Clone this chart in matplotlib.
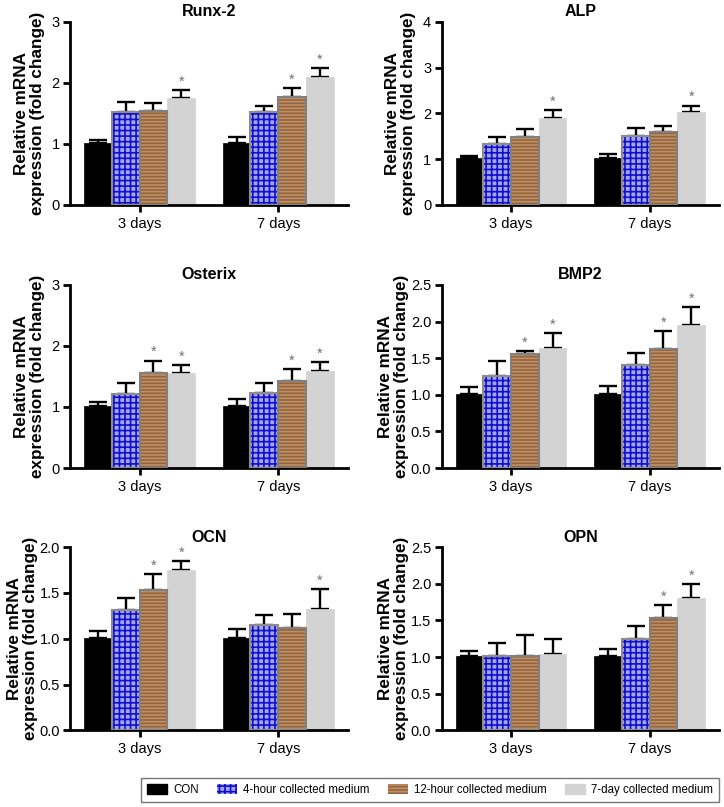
import numpy as np
import matplotlib
matplotlib.use("Agg")
import matplotlib.pyplot as plt
from matplotlib.patches import Patch

plt.rcParams['font.family'] = ['Liberation Sans', 'DejaVu Sans']
plt.rcParams['hatch.linewidth'] = 1.2

# data
groups = ['3 days', '7 days']
series = ['CON', '4-hour collected medium', '12-hour collected medium', '7-day collected medium']
genes = ['Runx-2', 'ALP', 'Osterix', 'BMP2', 'OCN', 'OPN']
ymax = [3, 4, 3, 2.5, 2.0, 2.5]
yticks = [[0, 1, 2, 3], [0, 1, 2, 3, 4], [0, 1, 2, 3],
          [0, 0.5, 1.0, 1.5, 2.0, 2.5], [0, 0.5, 1.0, 1.5, 2.0], [0, 0.5, 1.0, 1.5, 2.0, 2.5]]

# means[gene][series] -> [3 days, 7 days]; tops = mean + SD
runx2_mean = [[1.01, 1.01], [1.53, 1.53], [1.54, 1.77], [1.75, 2.10]]
runx2_top = [[1.07, 1.11], [1.69, 1.62], [1.67, 1.91], [1.88, 2.24]]
alp_mean = [[1.02, 1.02], [1.33, 1.51], [1.49, 1.59], [1.91, 2.02]]
alp_top = [[1.07, 1.11], [1.49, 1.67], [1.66, 1.72], [2.07, 2.17]]
osx_mean = [[1.02, 1.02], [1.22, 1.23], [1.55, 1.43], [1.55, 1.59]]
osx_top = [[1.09, 1.13], [1.39, 1.40], [1.76, 1.62], [1.69, 1.73]]
bmp2_mean = [[1.01, 1.01], [1.25, 1.40], [1.55, 1.62], [1.64, 1.95]]
bmp2_top = [[1.10, 1.12], [1.46, 1.57], [1.60, 1.87], [1.84, 2.20]]
ocn_mean = [[1.01, 1.01], [1.31, 1.15], [1.53, 1.12], [1.75, 1.33]]
ocn_top = [[1.08, 1.11], [1.45, 1.26], [1.71, 1.27], [1.85, 1.54]]
opn_mean = [[1.01, 1.01], [1.01, 1.24], [1.02, 1.53], [1.04, 1.80]]
opn_top = [[1.08, 1.11], [1.19, 1.42], [1.30, 1.71], [1.24, 2.00]]

# significance marks: (series index, group index)
runx2_sig = [(3, 0), (2, 1), (3, 1)]
alp_sig = [(3, 0), (3, 1)]
osx_sig = [(2, 0), (3, 0), (2, 1), (3, 1)]
bmp2_sig = [(2, 0), (3, 0), (2, 1), (3, 1)]
ocn_sig = [(2, 0), (3, 0), (3, 1)]
opn_sig = [(2, 1), (3, 1)]

means = [runx2_mean, alp_mean, osx_mean, bmp2_mean, ocn_mean, opn_mean]
tops = [runx2_top, alp_top, osx_top, bmp2_top, ocn_top, opn_top]
sigs = [runx2_sig, alp_sig, osx_sig, bmp2_sig, ocn_sig, opn_sig]

BLUE_FACE, BLUE_HATCH = '#a4a4f0', '#1010cc'
BROWN_FACE, BROWN_HATCH = '#96643a', '#bc9068'

fig = plt.figure(figsize=(7.24, 8.07), dpi=100)

lefts = [0.097, 0.610]
bottoms = [0.746, 0.420, 0.095]
w, h = 0.383, 0.227

bw = 0.2
x = np.arange(len(groups))


def draw_bar(ax, xs, ys, k):
    if k == 0:
        ax.bar(xs, ys, bw, color='black', edgecolor='black', linewidth=0.5, zorder=2)
    elif k == 1:
        ax.bar(xs, ys, bw, color=BLUE_FACE, edgecolor=BLUE_HATCH, hatch='+++',
               linewidth=0, zorder=2)
        ax.bar(xs, ys, bw, fill=False, edgecolor='#8c8c8c', linewidth=1.5, zorder=3)
    elif k == 2:
        ax.bar(xs, ys, bw, color=BROWN_FACE, edgecolor=BROWN_HATCH, hatch='-----',
               linewidth=0, zorder=2)
        ax.bar(xs, ys, bw, fill=False, edgecolor='#808080', linewidth=1.5, zorder=3)
    else:
        ax.bar(xs, ys, bw, color='#d3d3d3', edgecolor='#d3d3d3', linewidth=0.5, zorder=2)


for i, gene in enumerate(genes):
    r, c = divmod(i, 2)
    ax = fig.add_axes([lefts[c], bottoms[r], w, h])
    for k in range(4):
        xs = x + (k - 1.5) * bw
        m = np.array(means[i][k])
        t = np.array(tops[i][k])
        draw_bar(ax, xs, m, k)
        ax.errorbar(xs, m, yerr=[np.zeros_like(m), t - m], fmt='none',
                    ecolor='black', elinewidth=1.7, capsize=6.5, capthick=1.7, zorder=1)
    for k, g in sigs[i]:
        ax.annotate('*', (x[g] + (k - 1.5) * bw, tops[i][k][g]), xytext=(0, 1),
                    textcoords='offset points', ha='center', va='bottom',
                    fontsize=10.5, color='#707070')
    ax.set_xlim(-0.5, 1.5)
    ax.set_ylim(0, ymax[i])
    ax.set_yticks(yticks[i])
    decimal = ymax[i] in (2.0, 2.5)
    if decimal:
        ax.set_yticklabels(['%.1f' % v for v in yticks[i]])
    else:
        ax.set_yticklabels(['%d' % v for v in yticks[i]])
    ax.set_xticks(x)
    ax.set_xticklabels(groups)
    ax.set_title(gene, fontsize=11.5, fontweight='bold', pad=4)
    ax.set_ylabel('Relative mRNA\nexpression (fold change)', fontsize=12.3,
                  fontweight='bold', linespacing=1.1)
    ax.yaxis.set_label_coords(-0.116 if decimal else -0.092, 0.5)
    for s in ['top', 'right']:
        ax.spines[s].set_visible(False)
    for s in ['left', 'bottom']:
        ax.spines[s].set_linewidth(2)
    ax.tick_params(axis='both', width=2, length=5, labelsize=10.5)
    ax.tick_params(axis='y', pad=2.5)

handles = [Patch(facecolor='black', edgecolor='black'),
           Patch(facecolor=BLUE_FACE, edgecolor=BLUE_HATCH, hatch='+++', linewidth=0),
           Patch(facecolor=BROWN_FACE, edgecolor=BROWN_HATCH, hatch='-----', linewidth=0),
           Patch(facecolor='#d3d3d3', edgecolor='#d3d3d3')]
leg = fig.legend(handles, series, loc='center', bbox_to_anchor=(0.594, 0.021), ncol=4,
                 fontsize=8.3, frameon=True, fancybox=False, edgecolor='#555555',
                 handlelength=1.75, handleheight=1.0, columnspacing=1.6, handletextpad=0.5,
                 borderpad=0.5)
leg.get_frame().set_linewidth(1.0)

fig.savefig('out.png', dpi=100)
